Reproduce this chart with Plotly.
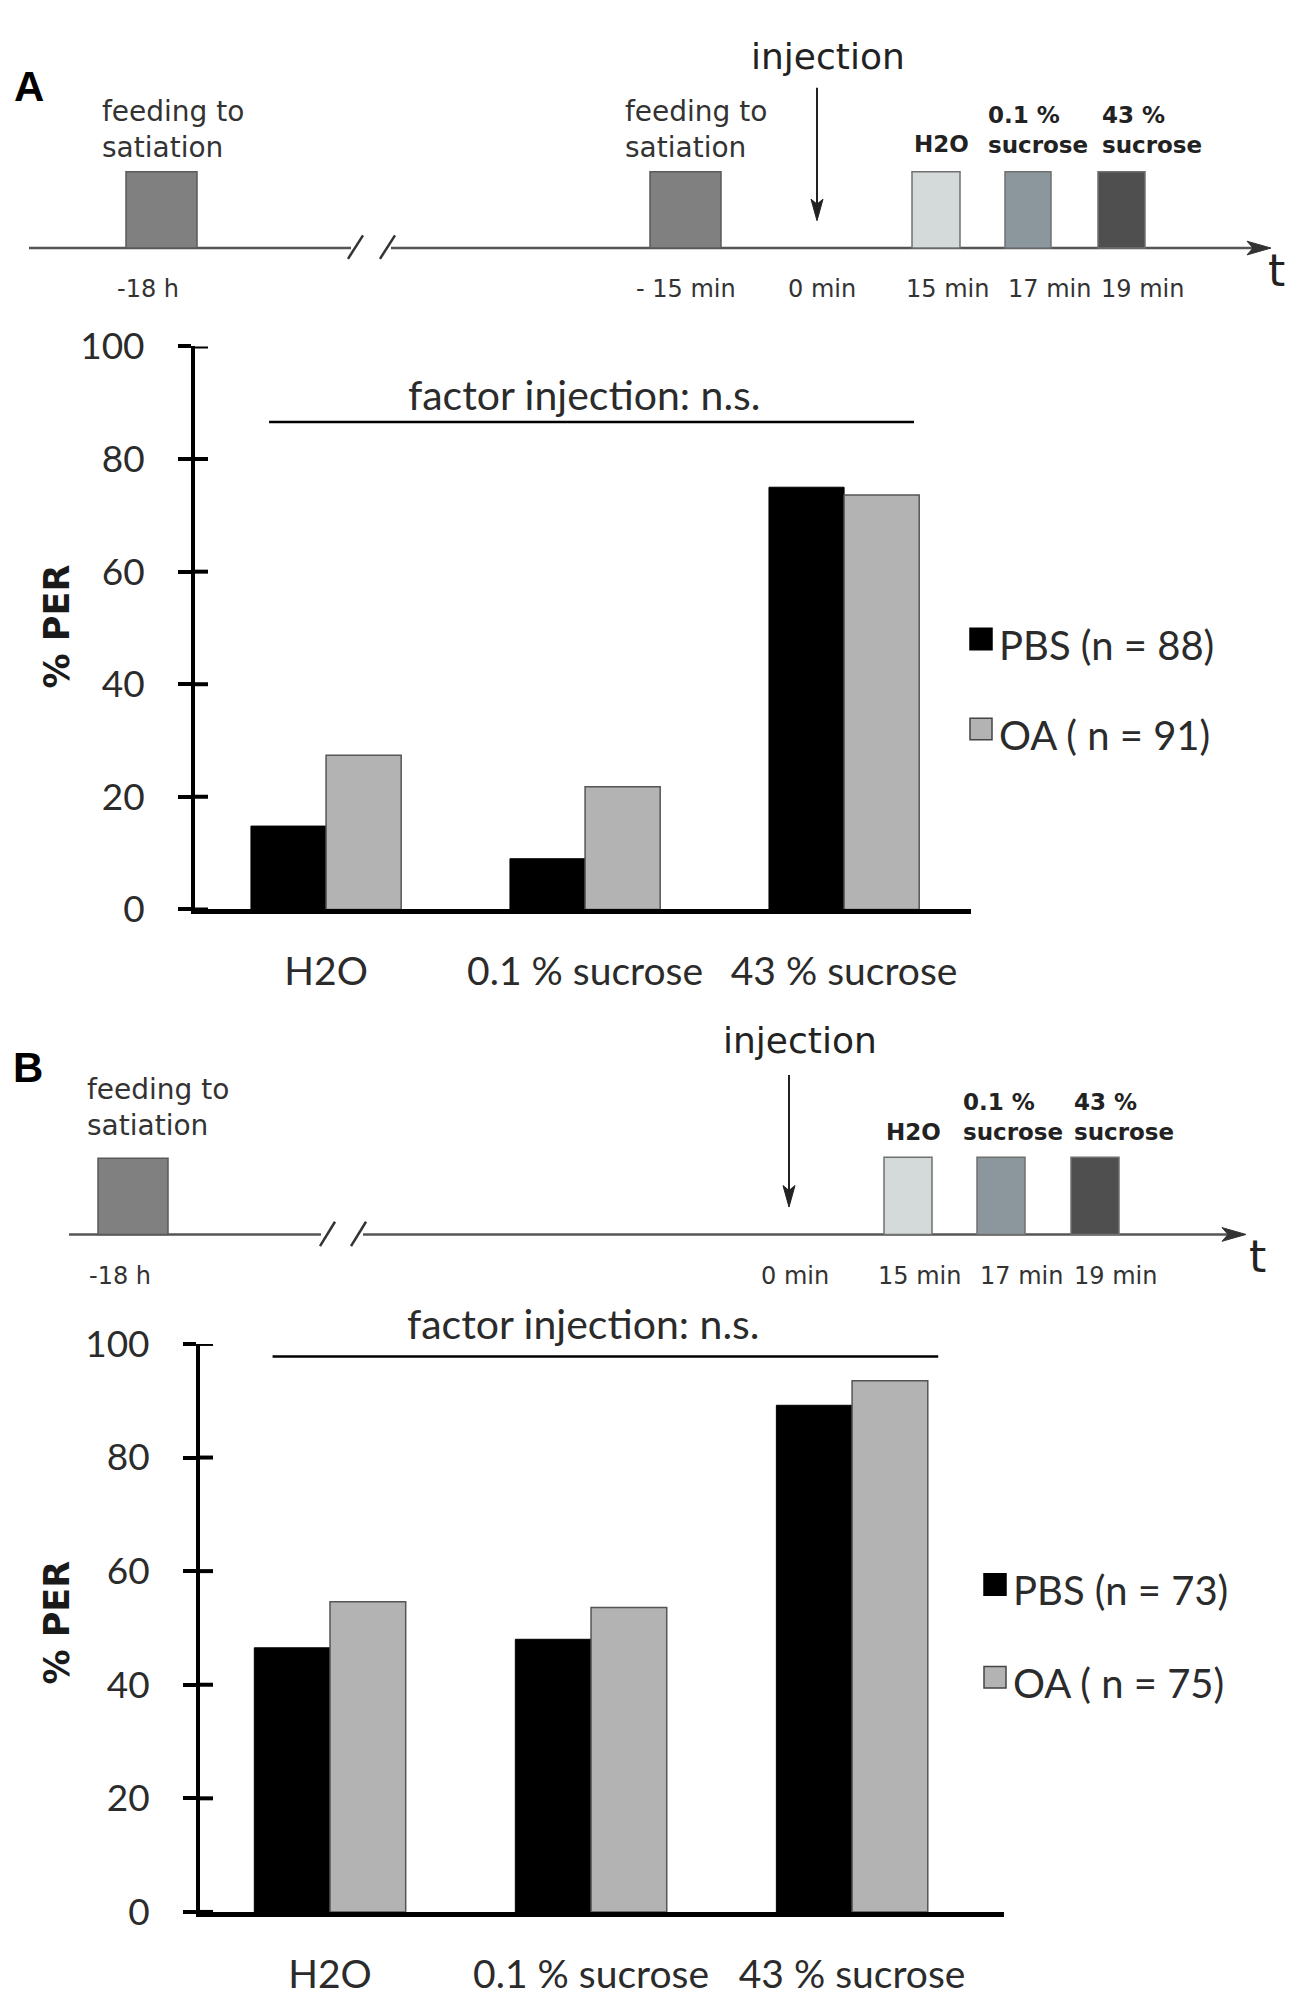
import plotly.graph_objects as go

W, H = 1293, 2009


def fx(x):
    return x / W


def fy(y):
    return 1 - y / H


# ---------------- data ----------------
categories = ["H2O", "0.1 % sucrose", "43 % sucrose"]
pbs_a = [14.8, 9.0, 75.0]
oa_a = [27.4, 21.8, 73.6]
pbs_b = [46.5, 48.0, 89.2]
oa_b = [54.6, 53.6, 93.5]
legend_a = ["PBS (n = 88)", "OA ( n = 91)"]
legend_b = ["PBS (n = 73)", "OA ( n = 75)"]
y_ticks = [0, 20, 40, 60, 80, 100]
stats_label = "factor injection: n.s."
y_title = "% PER"
stimulus_labels = ["H2O", "0.1 %<br>sucrose", "43 %<br>sucrose"]
stimulus_colors = ["#d4d9da", "#8b979c", "#4f4f4f"]
time_labels_a = ["-18 h", "- 15 min", "0 min", "15 min", "17 min", "19 min"]
time_labels_b = ["-18 h", "0 min", "15 min", "17 min", "19 min"]
feeding_label = "feeding to<br>satiation"
injection_label = "injection"

# ---------------- style ----------------
CHART_FONT = "Lato"
TL_FONT = "DejaVu Sans"
PBS_COLOR = "#000000"
OA_COLOR = "#b3b3b3"
OA_EDGE = "#555555"
TXT = "#2b2b2b"

fig = go.Figure()

xs = [0, 1, 2]
fig.add_trace(go.Bar(x=xs, y=pbs_a, name=legend_a[0], marker=dict(color=PBS_COLOR, line=dict(color="#000", width=1)),
                     xaxis="x", yaxis="y", showlegend=False))
fig.add_trace(go.Bar(x=xs, y=oa_a, name=legend_a[1], marker=dict(color=OA_COLOR, line=dict(color=OA_EDGE, width=1.5)),
                     xaxis="x", yaxis="y", showlegend=False))
fig.add_trace(go.Bar(x=xs, y=pbs_b, name=legend_b[0], marker=dict(color=PBS_COLOR, line=dict(color="#000", width=1)),
                     xaxis="x2", yaxis="y2", showlegend=False))
fig.add_trace(go.Bar(x=xs, y=oa_b, name=legend_b[1], marker=dict(color=OA_COLOR, line=dict(color=OA_EDGE, width=1.5)),
                     xaxis="x2", yaxis="y2", showlegend=False))


# ---------------- axes ----------------
def xax(domain, rng, anchor):
    return dict(domain=domain, range=rng, anchor=anchor, showgrid=False, zeroline=False, showline=True,
                linecolor="black", linewidth=5, ticks="", tickvals=xs, ticktext=categories,
                tickfont=dict(family=CHART_FONT, size=39, color=TXT), ticklabelstandoff=24,
                fixedrange=True)


def yax(domain, anchor):
    return dict(domain=domain, range=[0, 100], anchor=anchor, showgrid=False, zeroline=False,
                showline=True, linecolor="black", linewidth=4, ticks="outside", ticklen=13,
                tickwidth=4, tickcolor="black", tickvals=y_ticks,
                tickfont=dict(family=CHART_FONT, size=37, color=TXT), ticklabelstandoff=26,
                fixedrange=True)


A_XDOM = [fx(187), fx(963)]
A_YDOM = [fy(897.5), fy(321.7)]
B_XDOM = [fx(192), fx(996)]
B_YDOM = [fy(1923), fy(1342)]

fig.update_layout(
    width=W, height=H, margin=dict(l=0, r=0, t=0, b=0),
    paper_bgcolor="white", plot_bgcolor="rgba(0,0,0,0)",
    barmode="group", bargap=0.42, bargroupgap=0,
    xaxis=xax(A_XDOM, [-0.506, 2.49], "y"),
    yaxis=yax(A_YDOM, "x"),
    xaxis2=xax(B_XDOM, [-0.498, 2.582], "y2"),
    yaxis2=yax(B_YDOM, "x2"),
)

shapes = []
ann = []

# inner half of the crossing ticks
for xr, yr, dom in [("x", "y", A_XDOM), ("x2", "y2", B_XDOM)]:
    frac = 13 / ((dom[1] - dom[0]) * W)
    for v in y_ticks:
        shapes.append(dict(type="line", xref=f"{xr} domain", yref=yr, x0=0, x1=frac, y0=v, y1=v,
                           line=dict(color="black", width=4)))

# ---------------- bar-chart decorations ----------------
for xr, yr, line_y, x0, x1 in [("x", "y", 86.6, -0.22, 2.27), ("x2", "y2", 97.8, -0.22, 2.33)]:
    shapes.append(dict(type="line", xref=xr, yref=yr, x0=x0, x1=x1, y0=line_y, y1=line_y,
                       line=dict(color="black", width=2.5)))
for tx, ty in [(576, 371), (575, 1321)]:
    ann.append(dict(xref="paper", yref="paper", x=fx(tx), y=fy(ty), text=stats_label, showarrow=False,
                    font=dict(family=CHART_FONT, size=41, color=TXT), xanchor="center", yanchor="middle"))

# y titles
for yc in [608, 1627]:
    ann.append(dict(xref="paper", yref="paper", x=fx(49), y=fy(yc), text=y_title, textangle=-90,
                    showarrow=False, font=dict(family=TL_FONT, size=35, color="#1a1a1a", weight="bold"),
                    xanchor="center", yanchor="middle"))

# legends
for labels, sq_x, txt_x, ys in [
    (legend_a, 962, 989, [621, 713]),
    (legend_b, 976, 1003, [1588, 1683]),
]:
    for i, (lab, yc) in enumerate(zip(labels, ys)):
        fill = PBS_COLOR if i == 0 else OA_COLOR
        edge = "#000" if i == 0 else "#444"
        shapes.append(dict(type="rect", xref="paper", yref="paper", x0=fx(sq_x), x1=fx(sq_x + 22),
                           y0=fy(yc + 11), y1=fy(yc - 11), fillcolor=fill, line=dict(color=edge, width=1.5)))
        ann.append(dict(xref="paper", yref="paper", x=fx(txt_x), y=fy(yc + 6), text=lab, showarrow=False,
                        font=dict(family=CHART_FONT, size=40, color=TXT), xanchor="left", yanchor="middle"))

# ---------------- timelines (schematic) ----------------
LINE_C = "#555555"


def timeline(p):
    yl = p["y_line"]
    ann.append(dict(xref="paper", yref="paper", x=fx(p["letter_xy"][0]), y=fy(p["letter_xy"][1]),
                    text=p["letter"], showarrow=False,
                    font=dict(family="Liberation Sans", size=42, color="black", weight="bold"),
                    xanchor="center", yanchor="middle"))
    for a, b in p["segments"]:
        shapes.append(dict(type="line", xref="paper", yref="paper", x0=fx(a), x1=fx(b), y0=fy(yl), y1=fy(yl),
                           line=dict(color=LINE_C, width=2.5)))
    t = p["tip"]
    shapes.append(dict(type="path", xref="paper", yref="paper",
                       path=f"M{fx(t)},{fy(yl)} L{fx(t-24)},{fy(yl-7)} L{fx(t-18)},{fy(yl)} L{fx(t-24)},{fy(yl+7)} Z",
                       fillcolor="#333", line=dict(color="#333", width=1)))
    for (x0, y0, x1, y1) in p["slashes"]:
        shapes.append(dict(type="line", xref="paper", yref="paper", x0=fx(x0), y0=fy(y0), x1=fx(x1), y1=fy(y1),
                           line=dict(color="#333", width=2.5)))
    for (a, b) in p["feed_boxes"]:
        shapes.append(dict(type="rect", xref="paper", yref="paper", x0=fx(a), x1=fx(b), y0=fy(yl), y1=fy(p["feed_top"]),
                           fillcolor="#808080", line=dict(color="#5a5a5a", width=1.5)))
    for x in p["feed_text_x"]:
        ann.append(dict(xref="paper", yref="paper", x=fx(x), y=fy(p["feed_text_y"]), text=feeding_label,
                        showarrow=False, align="left", font=dict(family=TL_FONT, size=28, color="#333"),
                        xanchor="left", yanchor="middle"))
    for (a, b), col in zip(p["stim_boxes"], stimulus_colors):
        shapes.append(dict(type="rect", xref="paper", yref="paper", x0=fx(a), x1=fx(b), y0=fy(yl), y1=fy(p["stim_top"]),
                           fillcolor=col, line=dict(color="#707070", width=1.5)))
    for lab, (x, y, anchor) in zip(stimulus_labels, p["stim_label_pos"]):
        ann.append(dict(xref="paper", yref="paper", x=fx(x), y=fy(y), text=lab, showarrow=False, align="left",
                        font=dict(family=TL_FONT, size=23, color="#222", weight="bold"),
                        xanchor=anchor, yanchor="middle"))
    for lab, x in zip(p["time_labels"], p["time_x"]):
        ann.append(dict(xref="paper", yref="paper", x=fx(x), y=fy(p["time_y"]), text=lab, showarrow=False,
                        font=dict(family=TL_FONT, size=24, color="#333"), xanchor="center", yanchor="middle"))
    ann.append(dict(xref="paper", yref="paper", x=fx(p["t_xy"][0]), y=fy(p["t_xy"][1]), text="t", showarrow=False,
                    font=dict(family=TL_FONT, size=44, color="#222"), xanchor="center", yanchor="middle"))
    ix, iy0, iy1 = p["inj_arrow"]
    shapes.append(dict(type="line", xref="paper", yref="paper", x0=fx(ix), x1=fx(ix), y0=fy(iy0), y1=fy(iy1 - 10),
                       line=dict(color="#222", width=2)))
    shapes.append(dict(type="path", xref="paper", yref="paper",
                       path=f"M{fx(ix)},{fy(iy1)} L{fx(ix-6)},{fy(iy1-22)} L{fx(ix)},{fy(iy1-17)} L{fx(ix+6)},{fy(iy1-22)} Z",
                       fillcolor="#222", line=dict(color="#222", width=1)))
    ann.append(dict(xref="paper", yref="paper", x=fx(p["inj_text"][0]), y=fy(p["inj_text"][1]), text=injection_label,
                    showarrow=False, font=dict(family=TL_FONT, size=36, color="#222"),
                    xanchor="center", yanchor="middle"))


timeline(dict(
    letter="A", letter_xy=(21, 56), y_line=221,
    segments=[(21, 343), (383, 1245)], tip=1263,
    slashes=[(340, 232, 355, 208), (372, 232, 387, 208)],
    feed_boxes=[(118, 189), (642, 713)], feed_top=143,
    feed_text_x=[92, 615], feed_text_y=100,
    stim_boxes=[(904, 952), (997, 1043), (1090, 1137)], stim_top=143,
    stim_label_pos=[(933, 115, "center"), (978, 100, "left"), (1092, 100, "left")],
    time_labels=time_labels_a, time_x=[140, 678, 814, 939, 1041, 1134], time_y=263,
    t_xy=(1268, 244), inj_arrow=(809, 57, 193), inj_text=(820, 25),
))

timeline(dict(
    letter="B", letter_xy=(20, 1059), y_line=1230,
    segments=[(61, 313), (355, 1220)], tip=1238,
    slashes=[(312, 1242, 327, 1217), (343, 1242, 358, 1217)],
    feed_boxes=[(90, 160)], feed_top=1152,
    feed_text_x=[77], feed_text_y=1100,
    stim_boxes=[(876, 924), (969, 1017), (1063, 1111)], stim_top=1151,
    stim_label_pos=[(905, 1125, "center"), (953, 1110, "left"), (1064, 1110, "left")],
    time_labels=time_labels_b, time_x=[112, 787, 911, 1013, 1107], time_y=1272,
    t_xy=(1249, 1253), inj_arrow=(781, 1067, 1202), inj_text=(792, 1032),
))

fig.update_layout(shapes=shapes, annotations=ann)
fig.write_html("out.html", config=dict(displayModeBar=False))
